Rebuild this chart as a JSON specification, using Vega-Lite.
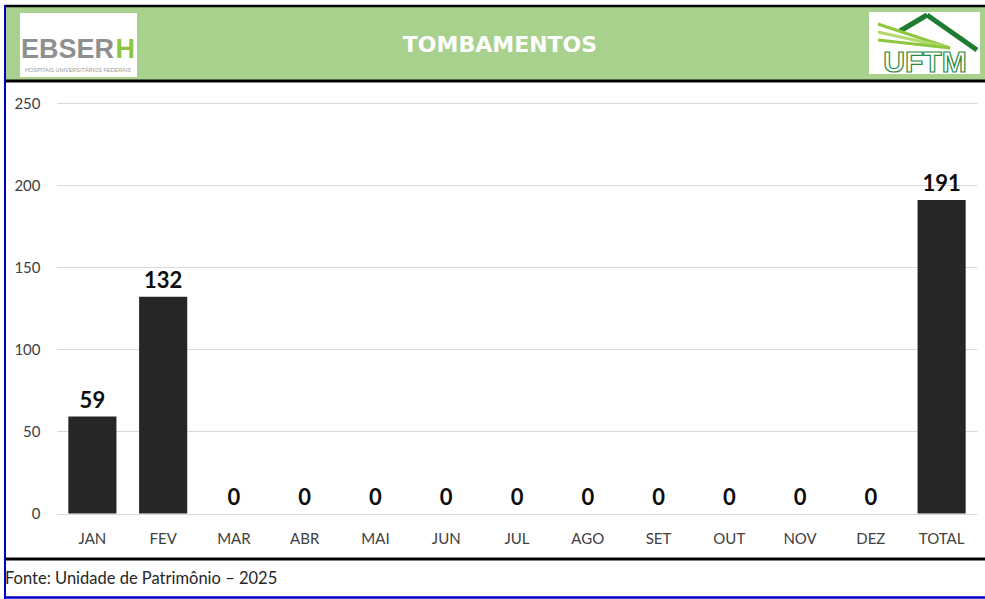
{
  "$schema": "https://vega.github.io/schema/vega-lite/v6.json",
  "width": 985,
  "height": 599,
  "autosize": "none",
  "padding": 0,
  "background": "white",
  "config": {"view": {"stroke": null}, "font": "Lato"},
  "resolve": {"scale": {"x": "independent", "y": "independent"}},
  "layer": [
    {
      "data": {"values": [{}]},
      "layer": [
        {
          "mark": {"type": "rect", "color": "#a9d18e"},
          "encoding": {
            "x": {"datum": 5, "type": "quantitative", "scale": {"domain": [0, 985], "range": [0, 985], "nice": false, "zero": false}, "axis": null},
            "x2": {"datum": 985},
            "y": {"datum": 6, "type": "quantitative", "scale": {"domain": [0, 599], "range": [0, 599], "nice": false, "zero": false}, "axis": null},
            "y2": {"datum": 81}
          }
        },
        {
          "mark": {"type": "rule", "color": "#000000", "strokeWidth": 2.5},
          "encoding": {
            "x": {"datum": 5, "type": "quantitative", "scale": {"domain": [0, 985], "range": [0, 985], "nice": false, "zero": false}, "axis": null},
            "x2": {"datum": 985},
            "y": {"datum": 6, "type": "quantitative", "scale": {"domain": [0, 599], "range": [0, 599], "nice": false, "zero": false}, "axis": null}
          }
        },
        {
          "mark": {"type": "rule", "color": "#000000", "strokeWidth": 3},
          "encoding": {
            "x": {"datum": 5, "type": "quantitative", "scale": {"domain": [0, 985], "range": [0, 985], "nice": false, "zero": false}, "axis": null},
            "x2": {"datum": 985},
            "y": {"datum": 81, "type": "quantitative", "scale": {"domain": [0, 599], "range": [0, 599], "nice": false, "zero": false}, "axis": null}
          }
        },
        {
          "mark": {"type": "rule", "color": "#000000", "strokeWidth": 3},
          "encoding": {
            "x": {"datum": 5, "type": "quantitative", "scale": {"domain": [0, 985], "range": [0, 985], "nice": false, "zero": false}, "axis": null},
            "x2": {"datum": 985},
            "y": {"datum": 559, "type": "quantitative", "scale": {"domain": [0, 599], "range": [0, 599], "nice": false, "zero": false}, "axis": null}
          }
        },
        {
          "mark": {"type": "rule", "color": "#0000cc", "strokeWidth": 2.5},
          "encoding": {
            "x": {"datum": 5, "type": "quantitative", "scale": {"domain": [0, 985], "range": [0, 985], "nice": false, "zero": false}, "axis": null},
            "x2": {"datum": 985},
            "y": {"datum": 597.5, "type": "quantitative", "scale": {"domain": [0, 599], "range": [0, 599], "nice": false, "zero": false}, "axis": null}
          }
        },
        {
          "mark": {"type": "rule", "color": "#0000cc", "strokeWidth": 2},
          "encoding": {
            "x": {"datum": 5, "type": "quantitative", "scale": {"domain": [0, 985], "range": [0, 985], "nice": false, "zero": false}, "axis": null},
            "y": {"datum": 5, "type": "quantitative", "scale": {"domain": [0, 599], "range": [0, 599], "nice": false, "zero": false}, "axis": null},
            "y2": {"datum": 599}
          }
        },
        {
          "mark": {"type": "rect", "color": "#ffffff"},
          "encoding": {
            "x": {"datum": 20, "type": "quantitative", "scale": {"domain": [0, 985], "range": [0, 985], "nice": false, "zero": false}, "axis": null},
            "x2": {"datum": 137},
            "y": {"datum": 13, "type": "quantitative", "scale": {"domain": [0, 599], "range": [0, 599], "nice": false, "zero": false}, "axis": null},
            "y2": {"datum": 77}
          }
        },
        {
          "mark": {"type": "text", "text": "EBSER", "font": "Liberation Sans", "fontWeight": "bold", "fontSize": 27, "color": "#8f8f8f", "align": "left", "baseline": "alphabetic"},
          "encoding": {
            "x": {"datum": 21, "type": "quantitative", "scale": {"domain": [0, 985], "range": [0, 985], "nice": false, "zero": false}, "axis": null},
            "y": {"datum": 58, "type": "quantitative", "scale": {"domain": [0, 599], "range": [0, 599], "nice": false, "zero": false}, "axis": null}
          }
        },
        {
          "mark": {"type": "text", "text": "H", "font": "Liberation Sans", "fontWeight": "bold", "fontSize": 27, "color": "#8dc63f", "align": "right", "baseline": "alphabetic"},
          "encoding": {
            "x": {"datum": 135, "type": "quantitative", "scale": {"domain": [0, 985], "range": [0, 985], "nice": false, "zero": false}, "axis": null},
            "y": {"datum": 58, "type": "quantitative", "scale": {"domain": [0, 599], "range": [0, 599], "nice": false, "zero": false}, "axis": null}
          }
        },
        {
          "mark": {"type": "text", "text": "HOSPITAIS UNIVERSITÁRIOS FEDERAIS", "font": "Liberation Sans", "fontSize": 5.5, "color": "#9a9a9a", "align": "center", "baseline": "middle"},
          "encoding": {
            "x": {"datum": 78, "type": "quantitative", "scale": {"domain": [0, 985], "range": [0, 985], "nice": false, "zero": false}, "axis": null},
            "y": {"datum": 70, "type": "quantitative", "scale": {"domain": [0, 599], "range": [0, 599], "nice": false, "zero": false}, "axis": null}
          }
        },
        {
          "mark": {"type": "rect", "color": "#ffffff"},
          "encoding": {
            "x": {"datum": 869, "type": "quantitative", "scale": {"domain": [0, 985], "range": [0, 985], "nice": false, "zero": false}, "axis": null},
            "x2": {"datum": 980},
            "y": {"datum": 12, "type": "quantitative", "scale": {"domain": [0, 599], "range": [0, 599], "nice": false, "zero": false}, "axis": null},
            "y2": {"datum": 74}
          }
        },
        {
          "mark": {"type": "rule", "color": "#1f7a32", "strokeWidth": 5},
          "encoding": {
            "x": {"datum": 927, "type": "quantitative", "scale": {"domain": [0, 985], "range": [0, 985], "nice": false, "zero": false}, "axis": null},
            "x2": {"datum": 977},
            "y": {"datum": 15, "type": "quantitative", "scale": {"domain": [0, 599], "range": [0, 599], "nice": false, "zero": false}, "axis": null},
            "y2": {"datum": 50}
          }
        },
        {
          "mark": {"type": "rule", "color": "#1f7a32", "strokeWidth": 5},
          "encoding": {
            "x": {"datum": 927, "type": "quantitative", "scale": {"domain": [0, 985], "range": [0, 985], "nice": false, "zero": false}, "axis": null},
            "x2": {"datum": 900},
            "y": {"datum": 15, "type": "quantitative", "scale": {"domain": [0, 599], "range": [0, 599], "nice": false, "zero": false}, "axis": null},
            "y2": {"datum": 31}
          }
        },
        {
          "mark": {"type": "rule", "color": "#8dc63f", "strokeWidth": 3},
          "encoding": {
            "x": {"datum": 878, "type": "quantitative", "scale": {"domain": [0, 985], "range": [0, 985], "nice": false, "zero": false}, "axis": null},
            "x2": {"datum": 950},
            "y": {"datum": 24, "type": "quantitative", "scale": {"domain": [0, 599], "range": [0, 599], "nice": false, "zero": false}, "axis": null},
            "y2": {"datum": 48}
          }
        },
        {
          "mark": {"type": "rule", "color": "#b5d96a", "strokeWidth": 3},
          "encoding": {
            "x": {"datum": 878, "type": "quantitative", "scale": {"domain": [0, 985], "range": [0, 985], "nice": false, "zero": false}, "axis": null},
            "x2": {"datum": 950},
            "y": {"datum": 32, "type": "quantitative", "scale": {"domain": [0, 599], "range": [0, 599], "nice": false, "zero": false}, "axis": null},
            "y2": {"datum": 48}
          }
        },
        {
          "mark": {"type": "rule", "color": "#8dc63f", "strokeWidth": 3},
          "encoding": {
            "x": {"datum": 878, "type": "quantitative", "scale": {"domain": [0, 985], "range": [0, 985], "nice": false, "zero": false}, "axis": null},
            "x2": {"datum": 950},
            "y": {"datum": 40, "type": "quantitative", "scale": {"domain": [0, 599], "range": [0, 599], "nice": false, "zero": false}, "axis": null},
            "y2": {"datum": 48}
          }
        },
        {
          "mark": {"type": "text", "text": "UFTM", "font": "Liberation Sans", "fontWeight": "bold", "fontSize": 30, "fill": "#ffffff", "stroke": "#2a8a3e", "strokeWidth": 1.2, "align": "center", "baseline": "alphabetic"},
          "encoding": {
            "x": {"datum": 925, "type": "quantitative", "scale": {"domain": [0, 985], "range": [0, 985], "nice": false, "zero": false}, "axis": null},
            "y": {"datum": 72, "type": "quantitative", "scale": {"domain": [0, 599], "range": [0, 599], "nice": false, "zero": false}, "axis": null}
          }
        },
        {
          "mark": {"type": "text", "text": "TOMBAMENTOS", "font": "DejaVu Sans", "fontWeight": "bold", "fontSize": 22, "color": "#ffffff", "align": "center", "baseline": "middle"},
          "encoding": {
            "x": {"datum": 500, "type": "quantitative", "scale": {"domain": [0, 985], "range": [0, 985], "nice": false, "zero": false}, "axis": null},
            "y": {"datum": 45, "type": "quantitative", "scale": {"domain": [0, 599], "range": [0, 599], "nice": false, "zero": false}, "axis": null}
          }
        },
        {
          "mark": {"type": "text", "text": "Fonte: Unidade de Patrimônio – 2025", "font": "Lato", "fontSize": 16.5, "color": "#262626", "align": "left", "baseline": "middle"},
          "encoding": {
            "x": {"datum": 5, "type": "quantitative", "scale": {"domain": [0, 985], "range": [0, 985], "nice": false, "zero": false}, "axis": null},
            "y": {"datum": 579, "type": "quantitative", "scale": {"domain": [0, 599], "range": [0, 599], "nice": false, "zero": false}, "axis": null}
          }
        }
      ]
    },
    {
      "data": {
        "values": [
          {"mes": "JAN", "qtd": 59},
          {"mes": "FEV", "qtd": 132},
          {"mes": "MAR", "qtd": 0},
          {"mes": "ABR", "qtd": 0},
          {"mes": "MAI", "qtd": 0},
          {"mes": "JUN", "qtd": 0},
          {"mes": "JUL", "qtd": 0},
          {"mes": "AGO", "qtd": 0},
          {"mes": "SET", "qtd": 0},
          {"mes": "OUT", "qtd": 0},
          {"mes": "NOV", "qtd": 0},
          {"mes": "DEZ", "qtd": 0},
          {"mes": "TOTAL", "qtd": 191}
        ]
      },
      "encoding": {
        "x": {
          "field": "mes",
          "type": "nominal",
          "sort": null,
          "scale": {"range": [57, 977], "paddingInner": 0.32, "paddingOuter": 0.16},
          "axis": {
            "orient": "bottom",
            "offset": -70,
            "title": null,
            "domain": false,
            "ticks": false,
            "tickSize": 0,
            "labelPadding": 2,
            "labelAngle": 0,
            "labelFont": "Lato",
            "labelFontSize": 15,
            "labelColor": "#404040"
          }
        },
        "y": {
          "field": "qtd",
          "type": "quantitative",
          "scale": {"domain": [0, 250], "range": [513.5, 103], "nice": false, "zero": true},
          "axis": {
            "orient": "left",
            "values": [0, 50, 100, 150, 200, 250],
            "title": null,
            "domain": false,
            "ticks": false,
            "tickSize": 0,
            "grid": true,
            "gridColor": "#d9d9d9",
            "gridWidth": 1,
            "labelPadding": -40,
            "labelAlign": "right",
            "labelFont": "Lato",
            "labelFontSize": 15,
            "labelColor": "#404040"
          }
        }
      },
      "layer": [
        {"mark": {"type": "bar", "color": "#262626"}},
        {
          "mark": {"type": "text", "font": "Lato", "fontWeight": "bold", "fontSize": 22, "color": "#0d0d0d", "baseline": "alphabetic", "dy": -9},
          "encoding": {"text": {"field": "qtd", "type": "quantitative"}}
        }
      ]
    }
  ]
}
